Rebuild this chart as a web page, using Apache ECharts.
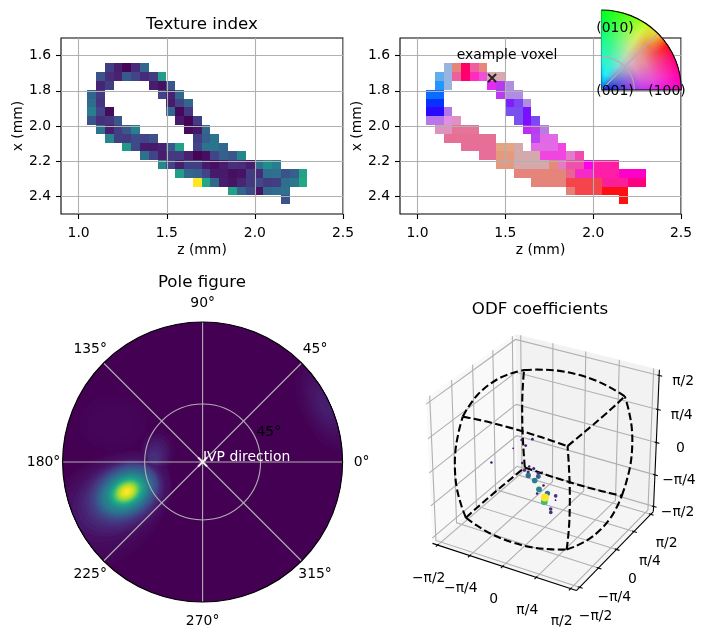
<!DOCTYPE html>
<html>
<head>
<meta charset="utf-8">
<title>Texture analysis of one grain</title>
<style>html,body{margin:0;padding:0;background:#fff}#chart{width:705px;height:640px}</style>
<script src="https://cdn.jsdelivr.net/npm/echarts@6/dist/echarts.min.js"></script>
</head>
<body>
<div id="chart"></div>
<script>
const VIRIDIS = ['#440154','#482475','#414487','#355f8d','#2a788e','#21918c','#22a884','#44bf70','#7ad151','#bddf26','#fde725'];
const FONT = '"DejaVu Sans"';
const GRID_GREY = '#b0b0b0';

// Voxel centres along z and x (mm).
const zCentres = [1.073,1.123,1.173,1.223,1.273,1.323,1.373,1.423,1.473,1.523,1.573,1.623,1.673,1.723,1.773,1.823,1.873,1.923,1.973,2.023,2.073,2.123,2.173,2.223,2.273];
const xCentres = [1.669,1.719,1.769,1.819,1.869,1.919,1.969,2.019,2.069,2.119,2.169,2.219,2.269,2.319,2.369,2.419];
const zTicks = [1.0,1.5,2.0,2.5];
const xTicks = [1.6,1.8,2.0,2.2,2.4];

// Texture index per voxel, one list of [column, value] per row.
const textureIndex = [
  [[2,.18],[3,.08],[4,.01],[5,.12],[6,.33]],
  [[1,.25],[2,.13],[3,.09],[4,.28],[5,.2],[6,.12],[7,.17],[8,.55]],
  [[1,.1],[2,.18],[7,.08],[8,.04],[9,.27]],
  [[0,.32],[1,.17],[8,.2],[9,.09],[10,.33]],
  [[0,.35],[1,.15],[9,.07],[10,.2],[11,.33]],
  [[0,.42],[1,.2],[2,.03],[9,.33],[10,.02],[11,.16]],
  [[0,.25],[1,.13],[2,.15],[3,.27],[10,.07],[11,.01],[12,.18]],
  [[1,.38],[2,.08],[3,.18],[4,.27],[5,.42],[11,.03],[12,.06],[13,.33]],
  [[2,.45],[3,.18],[4,.17],[5,.23],[6,.2],[7,.25],[12,.18],[13,.3],[14,.38]],
  [[4,.53],[5,.22],[6,.07],[7,.07],[8,.09],[9,.27],[10,.57],[12,.2],[13,.38],[14,.38],[15,.33]],
  [[6,.37],[7,.2],[8,.08],[9,.17],[10,.17],[11,.09],[12,.01],[13,.04],[14,.2],[15,.3],[16,.27],[17,.45]],
  [[8,.47],[9,.2],[10,.08],[11,.18],[12,.18],[13,.07],[14,.04],[15,.08],[16,.14],[17,.13],[18,.08],[19,.37],[20,.48],[21,.42]],
  [[10,.55],[11,.33],[12,.3],[13,.2],[14,.07],[15,.07],[16,.04],[17,.05],[18,.17],[19,.12],[20,.36],[21,.37],[22,.25],[23,.3],[24,.58]],
  [[12,1],[13,.6],[14,.33],[15,.08],[16,.05],[17,.1],[18,.17],[19,.22],[20,.17],[21,.18],[22,.36],[23,.4],[24,.6]],
  [[16,.57],[17,.32],[18,.22],[19,.05],[20,.33],[21,.35],[22,.37]],
  [[22,.25]]
];

// Orientation colour per voxel, one list of [column, colour] per row.
const orientationColours = [
  [[2,'#98b4e0'],[3,'#e58478'],[4,'#ff0066'],[5,'#ee5fa0'],[6,'#e8857c']],
  [[1,'#62adec'],[2,'#98b4e0'],[3,'#ee5fa0'],[4,'#ff006e'],[5,'#ff2cbe'],[6,'#f04fd8'],[7,'#d6aaaf'],[8,'#d6aaaf']],
  [[1,'#2196ff'],[2,'#98b4e0'],[7,'#e22cf0'],[8,'#b73af0'],[9,'#b08de0']],
  [[0,'#0a6cff'],[1,'#0a6cff'],[8,'#bb3cf0'],[9,'#b08de0'],[10,'#b08de0']],
  [[0,'#0a30ff'],[1,'#0a30ff'],[9,'#7f1fff'],[10,'#7f45f5'],[11,'#b08de0']],
  [[0,'#2a0aff'],[1,'#2a0aff'],[2,'#b474ea'],[9,'#7a50ee'],[10,'#7a50ee'],[11,'#7a10ff']],
  [[0,'#b877e8'],[1,'#b877e8'],[2,'#df90e0'],[3,'#e290c0'],[10,'#7a50ee'],[11,'#7a10ff'],[12,'#7a48f5']],
  [[1,'#de92c0'],[2,'#de92c0'],[3,'#e6749a'],[4,'#e6749a'],[5,'#e6749a'],[11,'#bb2cf5'],[12,'#b83ff0'],[13,'#b97ce0']],
  [[2,'#e66f95'],[3,'#e66f95'],[4,'#e66f95'],[5,'#e66f95'],[6,'#e66f95'],[7,'#e66f95'],[12,'#b845ef'],[13,'#e368e5'],[14,'#e368e5']],
  [[4,'#e66e98'],[5,'#e66e98'],[6,'#e66e98'],[7,'#e66e98'],[8,'#e3a681'],[9,'#e3a681'],[10,'#d4a9ac'],[12,'#e26ae5'],[13,'#e26ae5'],[14,'#e26ae5'],[15,'#f045e0']],
  [[6,'#e66e98'],[7,'#e66e98'],[8,'#e59a80'],[9,'#e59a80'],[10,'#d4a9ac'],[11,'#d4a9ac'],[12,'#d4a9ac'],[13,'#f045df'],[14,'#f045df'],[15,'#f045df'],[16,'#e27cca'],[17,'#f04cb0']],
  [[8,'#e59a80'],[9,'#e59a80'],[10,'#d4a9ac'],[11,'#d4a9ac'],[12,'#d4a9ac'],[13,'#d4a9ac'],[14,'#e58a78'],[15,'#e27cca'],[16,'#ef50aa'],[17,'#ef50aa'],[18,'#ff00ee'],[19,'#ff1eaa'],[20,'#ff1eaa'],[21,'#ff1ca0']],
  [[10,'#e5847a'],[11,'#e5847a'],[12,'#e5847a'],[13,'#e5847a'],[14,'#e5847a'],[15,'#e5847a'],[16,'#e8648f'],[17,'#f52ac8'],[18,'#f52ac8'],[19,'#ff1ea8'],[20,'#ff1ea8'],[21,'#ff1ea8'],[22,'#ff00c8'],[23,'#ff00c8'],[24,'#ff00c8']],
  [[12,'#e5847a'],[13,'#e5847a'],[14,'#e5847a'],[15,'#e5847a'],[16,'#f5444c'],[17,'#f5444c'],[18,'#f5444c'],[19,'#f0484a'],[20,'#fa1e98'],[21,'#fa1e98'],[22,'#fa1e98'],[23,'#ff0080'],[24,'#ff0080']],
  [[16,'#e58078'],[17,'#f5444c'],[18,'#f5444c'],[19,'#f5444c'],[20,'#ff1010'],[21,'#ff1010'],[22,'#ff1010']],
  [[22,'#ff1010']]
];
const exampleVoxel = [1.4244, 1.727];

// Inverse-pole-figure colour key: radial colour ramps at a few directions (degrees from [100]).
const keyAngles = [0,12,24,34,45,56,66,78,90];
const keyRadii  = [0,.1,.2,.35,.5,.65,.8,1];
const keyRamps = [
  ['#0818d8','#1a28e0','#4038e8','#8040e8','#b838f0','#d828f0','#f010e8','#ff00d0'],
  ['#0818d8','#2038e0','#4848e4','#9050e0','#d058dc','#e850d4','#f830c0','#ff00a0'],
  ['#0818d8','#2840e0','#5058dc','#9870d8','#d880c8','#e870b0','#f83c94','#ff0070'],
  ['#0820d8','#2848e0','#5870d8','#a090d0','#dca0b8','#e88c98','#f05060','#ff1010'],
  ['#0828dc','#2858d8','#5c80d0','#98acd4','#d4b8c4','#e4a090','#ec9048','#f0d830'],
  ['#0830e0','#1888e8','#50c0e0','#80dcd8','#b0e0b8','#cce888','#dcf060','#c0ff20'],
  ['#0838e4','#10a8f0','#30e0f0','#48f0d0','#70f0a8','#88f488','#90fb50','#70ff10'],
  ['#0840e8','#08b0f4','#20f8f0','#30f4c8','#38f6a0','#40fa78','#40ff50','#30ff10'],
  ['#0848ec','#0898f4','#10c8ff','#30f0e0','#20f8b0','#10ff88','#00ff50','#00ff20']
];

const poleAngleTicks = [0,45,90,135,180,225,270,315];
const poleRingLabel = '45°';
// Stereographic radius of the 45° ring in the pole figure.
const poleRing = [0.414];
// Radius (disc = 1) at which the direction labels sit.
const poleLabelRadius = 1.136;
// Pole-figure intensity contours: [radius, angle°, level, major, minor, tilt°].
const poleBackground = [[0,0,0,1,1,0]];
const poleMainLobe = [
  [.796,206.7,.01,.557,.357,38],[.767,205.9,.015,.529,.336,37],[.729,204.9,.02,.486,.314,35],[.691,203.8,.03,.443,.293,33],
  [.666,203.4,.04,.4,.271,30],[.649,203,.06,.357,.25,30],[.636,202.8,.08,.329,.236,30],[.623,202.6,.1,.307,.221,30],
  [.614,202.2,.125,.286,.211,30],[.606,201.8,.15,.271,.2,30],[.598,201.6,.185,.257,.189,30],[.59,201.5,.22,.243,.179,30],
  [.59,201.5,.26,.229,.168,30],[.59,201.5,.3,.214,.157,30],[.59,201.5,.34,.2,.146,30],[.59,201.5,.38,.186,.136,30],
  [.59,201.5,.42,.171,.125,30],[.582,201.4,.46,.157,.114,30],[.582,201.4,.5,.143,.106,30],[.582,201.4,.54,.132,.096,30],
  [.582,201.4,.58,.121,.089,30],[.582,201.4,.62,.111,.082,30],[.582,201.4,.66,.104,.077,30],[.582,201.4,.7,.096,.071,30],
  [.582,201.4,.74,.089,.066,30],[.582,201.4,.78,.082,.061,30],[.582,201.4,.82,.075,.056,30],[.582,201.4,.86,.068,.05,30],
  [.582,201.4,.9,.057,.043,30],[.582,201.4,.94,.046,.033,30],[.582,201.4,.97,.033,.024,30],[.582,201.4,1,.018,.013,30]
];
const poleInnerLobe = [
  [.328,166.1,.01,.15,.125,90],[.334,167.6,.03,.13,.105,90],[.336,169,.05,.11,.09,90],[.338,170.3,.07,.09,.075,90],
  [.343,172.2,.09,.072,.06,90],[.346,174.1,.11,.055,.047,90],[.348,175.3,.13,.042,.036,90]
];
const poleRimLobe = [
  [.97,24.8,.01,.35,.18,114.8],[.97,24.8,.02,.3,.15,114.8],[.97,24.8,.03,.26,.13,114.8],[.97,24.8,.04,.22,.11,114.8],
  [.97,24.8,.05,.185,.092,114.8],[.97,24.8,.06,.15,.075,114.8],[.97,24.8,.07,.115,.057,114.8],[.97,24.8,.08,.08,.04,114.8]
];
const poleFaintLobe = [[.698,156.5,.005,.24,.2,0],[.698,156.5,.01,.19,.16,0],[.698,156.5,.015,.14,.12,0]];
const poleMarker = [0, 0];

// Orientation-space axis, in radians.
const odfTicks = [-Math.PI/2,-Math.PI/4,0,Math.PI/4,Math.PI/2];
const odfTickLabels = ['−π/2','−π/4','0','π/4','π/2'];
// ODF coefficients: [phi1, Phi, phi2, weight].
const odfPoints = [
  [-.50,-.08,.31,.06],[-.31,.03,.33,.07],[-.40,-.09,.21,.08],[-.61,-.24,.16,.02],
  [-.92,-.59,-.09,.05],[-.37,-.28,-.10,.05],[-.23,-.24,-.16,.05],[-.14,-.21,-.20,.09],
  [-.29,-.33,-.22,.12],[-.22,-.30,-.26,.09],[-.03,-.21,-.28,.10],[.03,-.16,-.26,.02],
  [-.20,-.33,-.32,.37],[-.016,-.236,-.34,.30],[-.06,-.31,-.41,.42],[.12,-.26,-.50,.06],
  [.06,-.34,-.57,.46],[.05,-.40,-.64,.06],[.23,-.29,-.64,.36],[.39,-.23,-.685,.14],
  [.41,-.27,-.76,.02],[.22,-.40,-.786,.68],[.21,-.36,-.708,1],[.37,-.40,-.916,.14],[.39,-.43,-.976,.14]
];
// Fundamental-zone edge profile: [position along the edge, offset across it], radians.
const zoneEdgeProfile = [[-1.19,1.19],[-.89,1.25],[-.45,1.31],[0,1.328],[.45,1.31],[.89,1.25],[1.19,1.19]];

// Default mplot3d-style camera, with a cubic box.
const BOX_LIMIT = 1.70, BOX_HALF = 0.5501, CAMERA_DIST = 10;
const camU = [.866025,.5,0], camV = [-.25,.433013,.866025], camW = [.433013,-.75,.5];
const dot = (a,b) => a[0]*b[0]+a[1]*b[1]+a[2]*b[2];
function project(p) {
  const q = p.map(d => d / BOX_LIMIT * BOX_HALF);
  const depth = CAMERA_DIST - dot(camW, q);
  return [dot(camU, q) / depth, dot(camV, q) / depth];
}

const L = BOX_LIMIT;
const panes = [
  {fill:'#f9f9f9', pts:[[-L,-L,-L],[-L,L,-L],[-L,L,L],[-L,-L,L]]},
  {fill:'#f2f2f2', pts:[[-L,L,-L],[L,L,-L],[L,L,L],[-L,L,L]]},
  {fill:'#f5f5f5', pts:[[-L,-L,-L],[L,-L,-L],[L,L,-L],[-L,L,-L]]}
];
const boxGrid = [];
odfTicks.forEach(t => {
  boxGrid.push([[t,-L,-L],[t,L,-L],[t,L,L]]);
  boxGrid.push([[L,t,-L],[-L,t,-L],[-L,t,L]]);
  boxGrid.push([[L,L,t],[-L,L,t],[-L,-L,t]]);
});
const boxAxes = [[[-L,-L,-L],[L,-L,-L]],[[L,-L,-L],[L,L,-L]],[[L,L,-L],[L,L,L]]];
odfTicks.forEach(t => {
  boxAxes.push([[t,-L-.07,-L],[t,-L+.04,-L]]);
  boxAxes.push([[L+.07,t,-L],[L-.04,t,-L]]);
  boxAxes.push([[L+.07,L,t],[L-.04,L,t]]);
});
const zoneEdges = [];
[[1,1],[1,-1],[-1,1],[-1,-1]].forEach(([s1,s2]) => {
  zoneEdges.push(zoneEdgeProfile.map(([a,c]) => [a, s1*c, s2*c]));
  zoneEdges.push(zoneEdgeProfile.map(([a,c]) => [s1*c, a, s2*c]));
  zoneEdges.push(zoneEdgeProfile.map(([a,c]) => [s1*c, s2*c, a]));
});
const boxLabels = [];
odfTicks.forEach((t,i) => {
  boxLabels.push({p:[t,-L,-L], dx:-9, dy:33, text:odfTickLabels[i]});
  boxLabels.push({p:[L,t,-L], dx:16, dy:29.5, text:odfTickLabels[i]});
  boxLabels.push({p:[L,L,t], dx:24, dy:5.5, text:odfTickLabels[i]});
});

const textureData = [], voxelData = [], voxelFill = [];
textureIndex.forEach((row,r) => row.forEach(([c,v]) => textureData.push([zCentres[c], xCentres[r], v])));
orientationColours.forEach((row,r) => row.forEach(([c,col]) => { voxelData.push([zCentres[c], xCentres[r]]); voxelFill.push(col); }));
const poleContours = poleBackground.concat(poleMainLobe, poleInnerLobe, poleRimLobe, poleFaintLobe).sort((p,q) => p[2]-q[2]);

function voxelRect(api, fill) {
  const a = api.coord([api.value(0)-.025, api.value(1)-.025]);
  const b = api.coord([api.value(0)+.025, api.value(1)+.025]);
  const x0 = Math.round(a[0]), y0 = Math.round(a[1]);
  return {type:'rect', shape:{x:x0, y:y0, width:Math.round(b[0])-x0, height:Math.round(b[1])-y0}, style:{fill}};
}

// Each wedge runs on to the far edge of the key and is painted over by the next one.
function renderKey(params, api) {
  const cs = params.coordSys, kids = [], toRad = Math.PI/180;
  const rampAt = a => {
    let i = 0;
    while (i < keyAngles.length-2 && a > keyAngles[i+1]) i++;
    const t = (a-keyAngles[i])/(keyAngles[i+1]-keyAngles[i]);
    return keyRadii.map((r,j) => ({offset:r, color:echarts.color.lerp(t,[keyRamps[i][j],keyRamps[i+1][j]])}));
  };
  for (let a = 0; a < 90; a += 1.5) {
    kids.push({type:'sector', shape:{cx:cs.cx, cy:cs.cy, r0:0, r:cs.r, startAngle:-90*toRad, endAngle:-a*toRad, clockwise:true},
      style:{fill:new echarts.graphic.RadialGradient(cs.cx, cs.cy, cs.r, rampAt(a+.75), true)}});
  }
  kids.push({type:'arc', shape:{cx:cs.cx, cy:cs.cy, r:cs.r*poleRing[0], startAngle:-90*toRad, endAngle:0, clockwise:true}, style:{stroke:GRID_GREY, fill:'none', lineWidth:1.1}});
  kids.push({type:'line', shape:{x1:cs.cx, y1:cs.cy, x2:cs.cx+cs.r*Math.SQRT1_2, y2:cs.cy-cs.r*Math.SQRT1_2}, style:{stroke:GRID_GREY, lineWidth:1.1}});
  kids.push({type:'arc', shape:{cx:cs.cx, cy:cs.cy, r:cs.r, startAngle:-90*toRad, endAngle:0, clockwise:true}, style:{stroke:'#000', fill:'none', lineWidth:1.1}});
  kids.push({type:'line', shape:{x1:cs.cx, y1:cs.cy, x2:cs.cx+cs.r, y2:cs.cy}, style:{stroke:'#000', lineWidth:1.1}});
  kids.push({type:'line', shape:{x1:cs.cx, y1:cs.cy, x2:cs.cx, y2:cs.cy-cs.r}, style:{stroke:'#000', lineWidth:.6, opacity:.5}});
  return {type:'group', children:kids};
}

function renderContour(params, api) {
  const cs = params.coordSys, c = api.coord([api.value(0), api.value(1)]);
  const a = api.value(3)*cs.r, b = api.value(4)*cs.r, tilt = api.value(5)*Math.PI/180;
  const pts = [];
  for (let i = 0; i < 120; i++) {
    const t = i/120*2*Math.PI;
    let x = c[0] + a*Math.cos(t)*Math.cos(tilt) - b*Math.sin(t)*Math.sin(tilt);
    let y = c[1] - a*Math.cos(t)*Math.sin(tilt) - b*Math.sin(t)*Math.cos(tilt);
    const d = Math.hypot(x-cs.cx, y-cs.cy);
    if (d > cs.r) { x = cs.cx + (x-cs.cx)*cs.r/d; y = cs.cy + (y-cs.cy)*cs.r/d; }
    pts.push([x,y]);
  }
  return {type:'polygon', shape:{points:pts}, style:{fill:api.visual('color')}};
}

const boxPoints = (pts, api) => pts.map(p => api.coord(project(p)));

const axisText = {color:'#000', fontFamily:FONT, fontSize:13.9};
function valueAxes(gridIndex) {
  return {
    x:{type:'value', gridIndex, min:0.9, max:2.5, z:3, position:'bottom', name:'z (mm)', nameLocation:'middle', nameGap:29,
       nameTextStyle:axisText,
       axisLine:{show:false}, axisTick:{show:true, length:5, lineStyle:{color:'#000', width:1.1}, customValues:zTicks},
       axisLabel:{...axisText, margin:12, customValues:zTicks, formatter:v => v.toFixed(1), showMinLabel:true, showMaxLabel:true},
       splitLine:{show:true, lineStyle:{color:GRID_GREY, width:1.1}}},
    y:{type:'value', gridIndex, inverse:true, min:1.5, max:2.5, z:3, name:'x (mm)', nameLocation:'middle', nameGap:36, nameRotate:90,
       nameTextStyle:axisText,
       axisLine:{show:false}, axisTick:{show:true, length:5, lineStyle:{color:'#000', width:1.1}, customValues:xTicks},
       axisLabel:{...axisText, margin:10, verticalAlign:'middle', padding:[3,0,0,0], customValues:xTicks, formatter:v => v.toFixed(1)},
       splitLine:{show:true, lineStyle:{color:GRID_GREY, width:1.1}}}
  };
}
const ax0 = valueAxes(0), ax1 = valueAxes(1);
const hiddenX = {type:'value', gridIndex:2, show:false, min:-.0959, max:.1028};
const hiddenY = {type:'value', gridIndex:2, show:false, min:-.1081, max:.0914};

const labelStyle = (x,y,text,fill,align) => ({type:'text', z:100, silent:true,
  style:{x, y, text, fill:fill||'#000', font:'13.9px '+FONT, textAlign:align||'center', textVerticalAlign:'middle'}});
const titleStyle = {color:'#000', fontFamily:FONT, fontSize:16.67, fontWeight:'normal'};

const option = {
  animation:false,
  backgroundColor:'#fff',
  title:[
    {text:'Texture index', left:202, top:16, textAlign:'center', textStyle:titleStyle, padding:0},
    {text:'Pole figure', left:202, top:274, textAlign:'center', textStyle:titleStyle, padding:0},
    {text:'ODF coefficients', left:540, top:301, textAlign:'center', textStyle:titleStyle, padding:0}
  ],
  grid:[
    {left:61, top:38, width:282, height:176, show:true, borderColor:'#000', borderWidth:1.1, backgroundColor:'#fff'},
    {left:400, top:38, width:281, height:176, show:true, borderColor:'#000', borderWidth:1.1, backgroundColor:'#fff'},
    {left:400, top:320, width:300, height:300, show:false}
  ],
  xAxis:[ax0.x, ax1.x, hiddenX],
  yAxis:[ax0.y, ax1.y, hiddenY],
  polar:[
    {center:[202.6,462], radius:140},
    {center:[601.3,90], radius:80}
  ],
  angleAxis:[
    {polarIndex:0, type:'value', min:0, max:360, startAngle:0, clockwise:false, interval:45, z:5,
     axisLine:{show:true, lineStyle:{color:'#000', width:1.1}}, axisTick:{show:false}, axisLabel:{show:false},
     splitLine:{show:true, lineStyle:{color:GRID_GREY, width:1.1}}},
    {polarIndex:1, type:'value', min:0, max:360, startAngle:0, clockwise:false, show:false}
  ],
  radiusAxis:[
    {polarIndex:0, type:'value', min:0, max:1, z:5, axisLine:{show:false}, axisTick:{show:false, customValues:poleRing},
     axisLabel:{show:false, customValues:poleRing}, splitLine:{show:true, lineStyle:{color:GRID_GREY, width:1.1}}},
    {polarIndex:1, type:'value', min:0, max:1, show:false}
  ],
  visualMap:[
    {show:false, type:'continuous', min:0, max:1, dimension:2, seriesIndex:[0,4,9], inRange:{color:VIRIDIS}}
  ],
  series:[
    {type:'custom', xAxisIndex:0, yAxisIndex:0, z:2, silent:true, data:textureData,
     renderItem:(p,api) => voxelRect(api, api.visual('color'))},
    {type:'custom', xAxisIndex:1, yAxisIndex:1, z:2, silent:true, data:voxelData,
     renderItem:(p,api) => voxelRect(api, voxelFill[p.dataIndex])},
    {type:'scatter', xAxisIndex:1, yAxisIndex:1, z:6, silent:true, data:[exampleVoxel],
     symbol:'path://M0 0L10 10M10 0L0 10', symbolSize:8, itemStyle:{color:'transparent', borderColor:'#000', borderWidth:2}},
    {type:'custom', coordinateSystem:'polar', polarIndex:1, z:10, silent:true, data:[[0,0]], encode:{radius:0, angle:1}, renderItem:renderKey},
    {type:'custom', coordinateSystem:'polar', polarIndex:0, z:2, silent:true, data:poleContours, encode:{radius:0, angle:1},
     dimensions:['radius','angle','level','major','minor','tilt'], renderItem:renderContour},
    {type:'scatter', coordinateSystem:'polar', polarIndex:0, z:8, silent:true, data:[poleMarker],
     symbol:'path://M0 0L10 10M10 0L0 10', symbolSize:9, itemStyle:{color:'transparent', borderColor:'#fff', borderWidth:2}},
    {type:'custom', xAxisIndex:2, yAxisIndex:2, z:1, silent:true, data:panes.map((_,i) => [i]),
     renderItem:(p,api) => ({type:'polygon', shape:{points:boxPoints(panes[p.dataIndex].pts, api)}, style:{fill:panes[p.dataIndex].fill}})},
    {type:'custom', xAxisIndex:2, yAxisIndex:2, z:2, silent:true, data:boxGrid.map((_,i) => [i]),
     renderItem:(p,api) => ({type:'polyline', shape:{points:boxPoints(boxGrid[p.dataIndex], api)}, style:{stroke:GRID_GREY, lineWidth:1.1, fill:'none'}})},
    {type:'custom', xAxisIndex:2, yAxisIndex:2, z:3, silent:true, data:boxAxes.map((_,i) => [i]),
     renderItem:(p,api) => ({type:'polyline', shape:{points:boxPoints(boxAxes[p.dataIndex], api)}, style:{stroke:'#000', lineWidth:1.1, fill:'none'}})},
    {type:'scatter', xAxisIndex:2, yAxisIndex:2, z:5, silent:true,
     data:odfPoints.map(p => { const s = project(p); return [s[0], s[1], p[3]]; }),
     symbol:'circle', symbolSize:v => 8*Math.pow(v[2],.4), itemStyle:{opacity:1}},
    {type:'custom', xAxisIndex:2, yAxisIndex:2, z:4, silent:true, data:zoneEdges.map((_,i) => [i]),
     renderItem:(p,api) => ({type:'polyline', shape:{points:boxPoints(zoneEdges[p.dataIndex], api), smooth:.35},
       style:{stroke:'#000', lineWidth:2.08, lineDash:[7.7,3.3], fill:'none'}})},
    {type:'custom', xAxisIndex:2, yAxisIndex:2, z:6, silent:true, data:boxLabels.map((_,i) => [i]),
     renderItem:(p,api) => {
       const l = boxLabels[p.dataIndex], c = api.coord(project(l.p));
       return {type:'text', style:{x:c[0]+l.dx, y:c[1]+l.dy, text:l.text, fill:'#000', font:'13.9px '+FONT, textAlign:'center', textVerticalAlign:'middle'}};
     }},
    {type:'custom', coordinateSystem:'polar', polarIndex:0, z:6, silent:true, data:poleAngleTicks.map(a => [poleLabelRadius, a]), encode:{radius:0, angle:1},
     renderItem:(p,api) => {
       const c = api.coord([api.value(0), api.value(1)]);
       return {type:'text', style:{x:c[0], y:c[1], text:api.value(1)+'°', fill:'#000', font:'13.9px '+FONT, textAlign:'center', textVerticalAlign:'middle'}};
     }}
  ],
  graphic:[
    labelStyle(507,55,'example voxel'),
    labelStyle(615,28,'(010)'),
    labelStyle(615,91,'(001)'),
    labelStyle(667,91,'(100)'),
    labelStyle(256.5,432,poleRingLabel,'#000','left'),
    labelStyle(203,457,'IVP direction','#fff','left')
  ]
};

echarts.init(document.getElementById('chart'), null, {renderer:'canvas'}).setOption(option);
</script>
</body>
</html>
